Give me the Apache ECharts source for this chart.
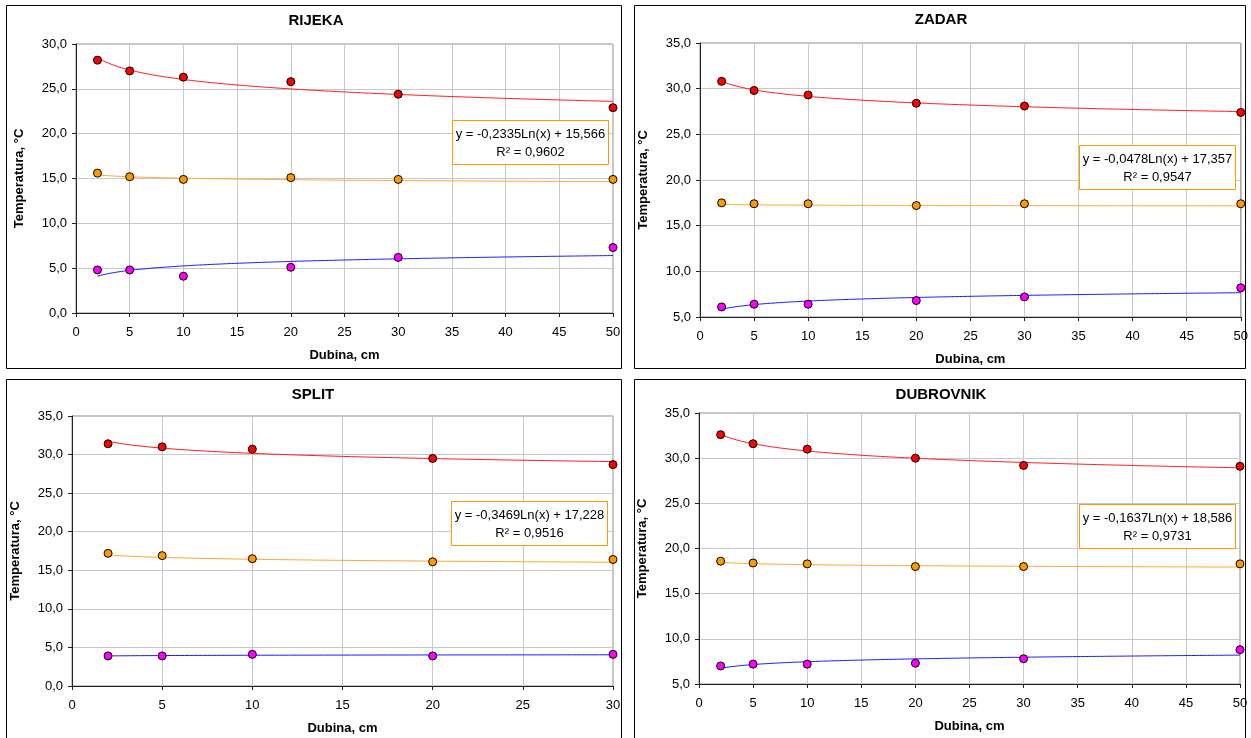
<!DOCTYPE html>
<html>
<head>
<meta charset="utf-8">
<script src="https://cdn.jsdelivr.net/npm/echarts@6/dist/echarts.min.js"></script>
<style>
  html, body { margin: 0; padding: 0; background: #fff; }
  #chart { width: 1251px; height: 738px; }
</style>
</head>
<body>
<div id="chart"></div>
<script>
// Soil temperature by depth at four coastal stations
const depth = [2, 5, 10, 20, 30, 50];
const splitDepth = [2, 5, 10, 20, 30];

const rijekaMax = [28.2, 27.0, 26.3, 25.8, 24.4, 22.9];
const rijekaMid = [15.6, 15.2, 14.9, 15.1, 14.9, 14.9];
const rijekaMin = [4.8, 4.8, 4.1, 5.1, 6.2, 7.3];

const zadarMax = [30.8, 29.8, 29.3, 28.4, 28.1, 27.4];
const zadarMid = [17.5, 17.4, 17.4, 17.2, 17.4, 17.4];
const zadarMin = [6.1, 6.4, 6.4, 6.8, 7.2, 8.2];

const splitMax = [31.4, 31.0, 30.7, 29.5, 28.7];
const splitMid = [17.2, 16.9, 16.5, 16.1, 16.4];
const splitMin = [3.9, 3.9, 4.1, 3.9, 4.1];

const dubrovnikMax = [32.6, 31.6, 31.0, 30.0, 29.2, 29.1];
const dubrovnikMid = [18.6, 18.4, 18.3, 18.0, 18.0, 18.3];
const dubrovnikMin = [7.0, 7.2, 7.2, 7.3, 7.8, 8.8];

// Logarithmic trend of the middle series, as printed in each box
const eqSlope = [-0.2335, -0.0478, -0.3469, -0.1637];
const eqIntercept = [15.566, 17.357, 17.228, 18.586];
const eqR2 = [0.9602, 0.9547, 0.9516, 0.9731];

const stationNames = ['RIJEKA', 'ZADAR', 'SPLIT', 'DUBROVNIK'];
const yMin = [0, 5, 0, 5];
const yMax = [30, 35, 35, 35];
const xMax = [50, 50, 30, 50];

const stations = [
  { x: depth, max: rijekaMax, mid: rijekaMid, min: rijekaMin },
  { x: depth, max: zadarMax, mid: zadarMid, min: zadarMin },
  { x: splitDepth, max: splitMax, mid: splitMid, min: splitMin },
  { x: depth, max: dubrovnikMax, mid: dubrovnikMid, min: dubrovnikMin }
];

// panel geometry
const grids = [
  { left: 76, top: 44, width: 537, height: 269 },
  { left: 700, top: 43, width: 541, height: 274 },
  { left: 72, top: 416, width: 541, height: 270 },
  { left: 699, top: 413, width: 541, height: 271 }
];
const frames = [
  { x: 6.5, y: 5.5, width: 615, height: 363 },
  { x: 634.5, y: 5.5, width: 611, height: 363 },
  { x: 6.5, y: 379.5, width: 615, height: 380 },
  { x: 634.5, y: 379.5, width: 611, height: 380 }
];
const titleCenters = [[316, 13], [941, 12], [313, 387], [941, 387]];
const eqBoxes = [
  { x: 452.5, y: 120.5 }, { x: 1079.5, y: 145.5 },
  { x: 451.5, y: 501.5 }, { x: 1079.5, y: 504.5 }
];

const FONT = '"Liberation Sans", Arial, sans-serif';
const comma = (v, d) => v.toFixed(d).replace('.', ',');

// least-squares fit y = a*ln(x) + b
function logFit(xs, ys) {
  const lx = xs.map(Math.log);
  const n = xs.length;
  const mx = lx.reduce((s, v) => s + v, 0) / n;
  const my = ys.reduce((s, v) => s + v, 0) / n;
  let sxy = 0, sxx = 0;
  for (let i = 0; i < n; i++) {
    sxy += (lx[i] - mx) * (ys[i] - my);
    sxx += (lx[i] - mx) * (lx[i] - mx);
  }
  const a = sxy / sxx;
  return { a: a, b: my - a * mx };
}
function trendPoints(fit, x0, x1) {
  const pts = [];
  for (let x = x0; x <= x1 + 1e-9; x += 0.25) {
    pts.push([x, fit.a * Math.log(x) + fit.b]);
  }
  return pts;
}

const option = {
  animation: false,
  backgroundColor: '#fff',
  title: stationNames.map((t, i) => ({
    text: t,
    left: titleCenters[i][0],
    top: titleCenters[i][1],
    textAlign: 'center',
    padding: 0,
    textStyle: { fontFamily: FONT, fontWeight: 'bold', fontSize: 15, color: '#000' }
  })),
  grid: grids.map(g => Object.assign({
    show: true, borderColor: '#8c8c8c', borderWidth: 1, backgroundColor: 'transparent'
  }, g)),
  xAxis: grids.map((g, i) => ({
    type: 'value',
    gridIndex: i,
    min: 0, max: xMax[i], interval: 5,
    name: 'Dubina, cm',
    nameLocation: 'middle',
    nameGap: 36,
    nameTextStyle: { fontFamily: FONT, fontWeight: 'bold', fontSize: 13, color: '#000' },
    axisLine: { show: true, onZero: false, lineStyle: { color: '#222', width: 1 } },
    axisTick: { show: true, length: 4, lineStyle: { color: '#222' } },
    axisLabel: { fontFamily: FONT, fontSize: 13, color: '#000', margin: 13 },
    splitLine: { show: true, lineStyle: { color: '#c8c8c8', width: 1 } }
  })),
  yAxis: grids.map((g, i) => ({
    type: 'value',
    gridIndex: i,
    min: yMin[i], max: yMax[i], interval: 5,
    name: 'Temperatura, °C',
    nameLocation: 'middle',
    nameRotate: 90,
    nameGap: 50,
    nameTextStyle: { fontFamily: FONT, fontWeight: 'bold', fontSize: 13, color: '#000' },
    axisLine: { show: true, onZero: false, lineStyle: { color: '#222', width: 1 } },
    axisTick: { show: true, length: 4, lineStyle: { color: '#222' } },
    axisLabel: { fontFamily: FONT, fontSize: 13, color: '#000', margin: 9,
      formatter: v => comma(v, 1) },
    splitLine: { show: true, lineStyle: { color: '#c8c8c8', width: 1 } }
  })),
  series: [],
  graphic: []
};

const colors = { max: '#ff0000', mid: '#ff9900', min: '#ff00ff' };
const trendColors = { max: '#ff1a1a', mid: '#ffa633', min: '#1a1aff' };

stations.forEach((st, i) => {
  const x0 = st.x[0], x1 = st.x[st.x.length - 1];
  const fits = {
    max: logFit(st.x, st.max),
    mid: { a: eqSlope[i], b: eqIntercept[i] },
    min: logFit(st.x, st.min)
  };
  ['max', 'mid', 'min'].forEach(key => {
    option.series.push({
      type: 'line',
      xAxisIndex: i, yAxisIndex: i,
      data: trendPoints(fits[key], x0, x1),
      showSymbol: false,
      silent: true,
      z: 2,
      lineStyle: { color: trendColors[key], width: 1 }
    });
  });
  ['max', 'mid', 'min'].forEach(key => {
    option.series.push({
      type: 'scatter',
      xAxisIndex: i, yAxisIndex: i,
      data: st.x.map((x, k) => [x, st[key][k]]),
      symbol: 'circle',
      symbolSize: 8,
      z: 3,
      itemStyle: { color: colors[key], borderColor: '#000', borderWidth: 1, opacity: 1 }
    });
  });

  // panel frame
  option.graphic.push({
    type: 'rect', silent: true, z: 0,
    shape: frames[i],
    style: { fill: 'none', stroke: '#000', lineWidth: 1 }
  });

  // trend equation box, drawn above the grid lines
  const b = eqBoxes[i];
  option.graphic.push(
    { type: 'rect', silent: true, z: 100, zlevel: 1,
      shape: { x: b.x, y: b.y, width: 156, height: 44 },
      style: { fill: '#fff', stroke: '#ff9900', lineWidth: 1 } },
    { type: 'text', silent: true, z: 101, zlevel: 1,
      style: {
        x: b.x + 78, y: b.y + 13.5,
        text: 'y = ' + comma(eqSlope[i], 4) + 'Ln(x) + ' + comma(eqIntercept[i], 3),
        font: '13px ' + FONT, fill: '#000', align: 'center', verticalAlign: 'middle' } },
    { type: 'text', silent: true, z: 101, zlevel: 1,
      style: {
        x: b.x + 78, y: b.y + 32,
        text: 'R² = ' + comma(eqR2[i], 4),
        font: '13px ' + FONT, fill: '#000', align: 'center', verticalAlign: 'middle' } }
  );
});

const chart = echarts.init(document.getElementById('chart'), null, { renderer: 'canvas' });
chart.setOption(option);
</script>
</body>
</html>
